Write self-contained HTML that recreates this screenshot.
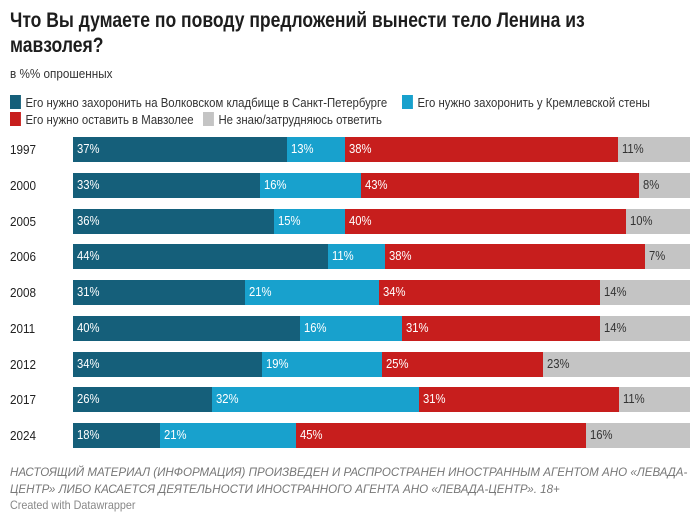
<!DOCTYPE html>
<html><head><meta charset="utf-8"><style>
body{margin:0;width:700px;height:521px;background:#fff;font-family:"Liberation Sans",sans-serif;color:#222;position:relative;overflow:hidden}
.x{position:absolute;white-space:nowrap;transform-origin:0 0}
.t{left:10px;top:8px;font-size:21px;font-weight:bold;line-height:25px;color:#1d1d1d;transform:scaleX(0.835)}
.s{left:10px;top:66px;font-size:13px;color:#333;transform:scaleX(0.9)}
.lg{font-size:12.5px;color:#333;transform:scaleX(0.91)}
.lg i{display:inline-block;width:12px;height:14px;vertical-align:-2px;margin-right:5px}
.row{position:absolute;left:0;width:700px;height:25px}
.yr{position:absolute;left:10px;top:5px;font-size:13px;color:#222;transform:scaleX(0.9);transform-origin:0 0}
.seg{position:absolute;top:0;height:25px;color:#fff;font-size:12.5px;line-height:25px;box-sizing:border-box;padding-left:4px}
.seg span{display:inline-block;transform:scaleX(0.9);transform-origin:0 0}
.g{color:#333}
.f{left:10px;top:464px;font-size:12px;font-style:italic;color:#777;line-height:17px;transform:scaleX(0.965)}
.c{left:10px;top:498px;font-size:12px;color:#888;transform:scaleX(0.9)}
</style></head><body>
<div class="x t">Что Вы думаете по поводу предложений вынести тело Ленина из<br>мавзолея?</div>
<div class="x s">в %% опрошенных</div>
<div class="x lg" style="left:10px;top:95px"><i style="background:#155f7a"></i>Его нужно захоронить на Волковском кладбище в Санкт-Петербурге</div>
<div class="x lg" style="left:402px;top:95px"><i style="background:#18a1cd"></i>Его нужно захоронить у Кремлевской стены</div>
<div class="x lg" style="left:10px;top:112px"><i style="background:#c71e1d"></i>Его нужно оставить в Мавзолее</div>
<div class="x lg" style="left:203px;top:112px"><i style="background:#c4c4c4"></i>Не знаю/затрудняюсь ответить</div>
<div id="rows"></div>
<div class="x f">НАСТОЯЩИЙ МАТЕРИАЛ (ИНФОРМАЦИЯ) ПРОИЗВЕДЕН И РАСПРОСТРАНЕН ИНОСТРАННЫМ АГЕНТОМ АНО «ЛЕВАДА-<br>ЦЕНТР» ЛИБО КАСАЕТСЯ ДЕЯТЕЛЬНОСТИ ИНОСТРАННОГО АГЕНТА АНО «ЛЕВАДА-ЦЕНТР». 18+</div>
<div class="x c">Created with Datawrapper</div>
<script>
var d=[["1997",[73,287,345,618,690],["37%","13%","38%","11%"]],
["2000",[73,260,361,639,690],["33%","16%","43%","8%"]],
["2005",[73,274,345,626,690],["36%","15%","40%","10%"]],
["2006",[73,328,385,645,690],["44%","11%","38%","7%"]],
["2008",[73,245,379,600,690],["31%","21%","34%","14%"]],
["2011",[73,300,402,600,690],["40%","16%","31%","14%"]],
["2012",[73,262,382,543,690],["34%","19%","25%","23%"]],
["2017",[73,212,419,619,690],["26%","32%","31%","11%"]],
["2024",[73,160,296,586,690],["18%","21%","45%","16%"]]];
var cols=["#155f7a","#18a1cd","#c71e1d","#c4c4c4"],h="";
d.forEach(function(r,i){var y=137+i*35.75;h+='<div class="row" style="top:'+y+'px"><div class="yr">'+r[0]+'</div>';
for(var k=0;k<4;k++){h+='<div class="seg'+(k==3?' g':'')+'" style="left:'+r[1][k]+'px;width:'+(r[1][k+1]-r[1][k])+'px;background:'+cols[k]+'"><span>'+r[2][k]+'</span></div>';}
h+='</div>';});
document.getElementById("rows").innerHTML=h;
</script>
</body></html>
